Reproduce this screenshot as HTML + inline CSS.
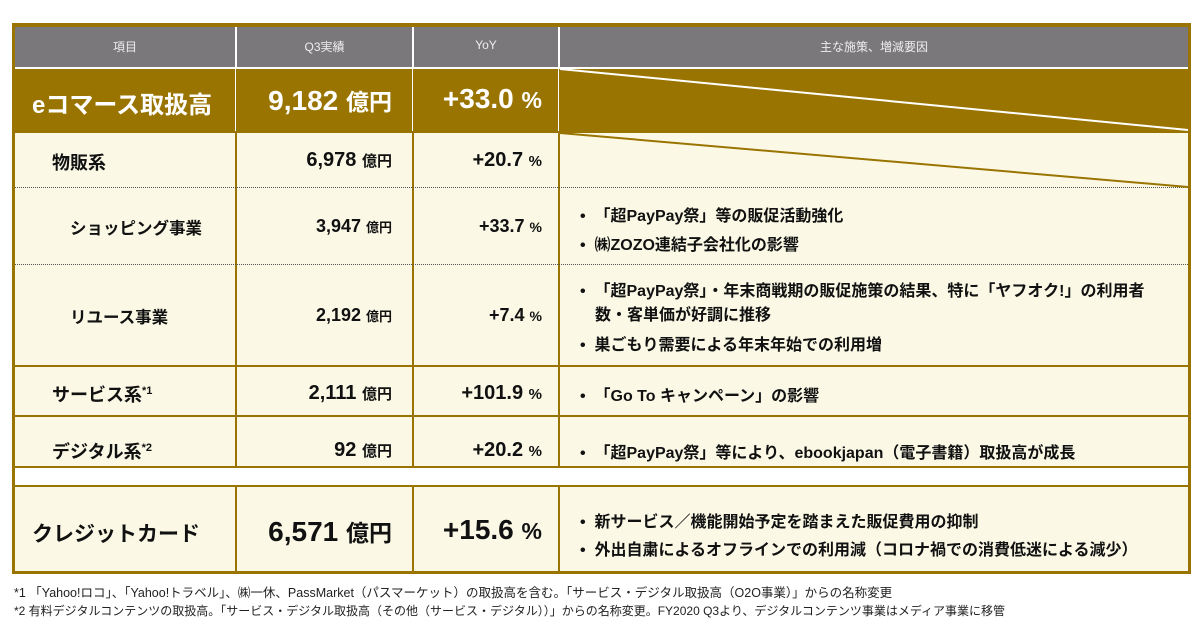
<!DOCTYPE html>
<html><head><meta charset="utf-8"><style>
body{margin:0;width:1200px;height:630px;background:#fff;position:relative;overflow:hidden;font-family:"Liberation Sans","Noto Sans CJK JP",sans-serif;}
.a{position:absolute;box-sizing:border-box;}
.t{position:absolute;white-space:nowrap;font-weight:bold;color:#111;}
.r{text-align:right;}
.u{font-size:15px;}
.n{font-size:20px;}
.c4{font-size:16px;}
.hd{color:#eee;font-size:12px;font-weight:normal;position:absolute;top:38px;text-align:center;}
</style></head><body>
<div class="a" style="left:12px;top:23px;width:1179px;height:551px;background:#9a7400;"></div>
<div class="a" style="left:15px;top:27px;width:1173px;height:40px;background:#7b787c;"></div>
<div class="a" style="left:15px;top:69px;width:1173px;height:62px;background:#9a7400;"></div>
<div class="a" style="left:15px;top:133px;width:1173px;height:333px;background:#fbf9e6;"></div>
<div class="a" style="left:15px;top:468px;width:1173px;height:17px;background:#fff;"></div>
<div class="a" style="left:15px;top:487px;width:1173px;height:84px;background:#fbf9e6;"></div>
<div class="a" style="left:15px;top:67px;width:1173px;height:2px;background:#fff;"></div>
<div class="a" style="left:235px;top:27px;width:2px;height:40px;background:#fff;"></div>
<div class="a" style="left:412px;top:27px;width:2px;height:40px;background:#fff;"></div>
<div class="a" style="left:558px;top:27px;width:2px;height:40px;background:#fff;"></div>
<div class="a" style="left:235px;top:69px;width:1px;height:62px;background:#fff;"></div>
<div class="a" style="left:412px;top:69px;width:1px;height:62px;background:#fff;"></div>
<div class="a" style="left:558px;top:69px;width:1px;height:62px;background:#fff;"></div>
<div class="a" style="left:235px;top:133px;width:2px;height:333px;background:#9a7400;"></div>
<div class="a" style="left:412px;top:133px;width:2px;height:333px;background:#9a7400;"></div>
<div class="a" style="left:558px;top:133px;width:2px;height:333px;background:#9a7400;"></div>
<div class="a" style="left:235px;top:487px;width:2px;height:84px;background:#9a7400;"></div>
<div class="a" style="left:412px;top:487px;width:2px;height:84px;background:#9a7400;"></div>
<div class="a" style="left:558px;top:487px;width:2px;height:84px;background:#9a7400;"></div>
<div class="a" style="left:15px;top:187px;width:1173px;border-top:1.5px dotted #555;"></div>
<div class="a" style="left:15px;top:264px;width:1173px;border-top:1.5px dotted #555;"></div>
<div class="a" style="left:15px;top:365px;width:1173px;height:2px;background:#9a7400;"></div>
<div class="a" style="left:15px;top:415px;width:1173px;height:2px;background:#9a7400;"></div>
<svg class="a" style="left:0;top:0" width="1200" height="630"><line x1="560" y1="69" x2="1188" y2="130" stroke="#fff" stroke-width="2"/><line x1="560" y1="133" x2="1188" y2="187" stroke="#9a7400" stroke-width="2"/></svg>
<div class="hd" style="left:15px;width:220px;">項目</div>
<div class="hd" style="left:237px;width:175px;">Q3実績</div>
<div class="hd" style="left:414px;width:144px;">YoY</div>
<div class="hd" style="left:560px;width:628px;">主な施策、増減要因</div>
<div class="t" style="left:32px;top:85px;font-size:24px;color:#fff;">eコマース取扱高</div>
<div class="t r" style="left:237px;width:155px;top:83px;font-size:28px;color:#fff;">9,182 <span style="font-size:23px">億円</span></div>
<div class="t r" style="left:414px;width:128px;top:83px;font-size:28px;color:#fff;">+33.0 <span style="font-size:23px">%</span></div>
<div class="t" style="left:52px;top:149px;font-size:18px;">物販系</div>
<div class="t r n" style="left:237px;width:155px;top:149px;">6,978 <span class="u">億円</span></div>
<div class="t r n" style="left:414px;width:128px;top:149px;">+20.7 <span class="u">%</span></div>
<div class="t" style="left:70px;top:215px;font-size:16.5px;">ショッピング事業</div>
<div class="t r" style="left:237px;width:155px;top:216px;font-size:18px;">3,947 <span style="font-size:13px">億円</span></div>
<div class="t r" style="left:414px;width:128px;top:216px;font-size:18px;">+33.7 <span style="font-size:14px">%</span></div>
<div class="t c4" style="left:580px;top:202px;">•&nbsp; 「超PayPay祭」等の販促活動強化</div>
<div class="t c4" style="left:580px;top:231px;">•&nbsp; ㈱ZOZO連結子会社化の影響</div>
<div class="t" style="left:70px;top:304px;font-size:16.5px;">リユース事業</div>
<div class="t r" style="left:237px;width:155px;top:305px;font-size:18px;">2,192 <span style="font-size:13px">億円</span></div>
<div class="t r" style="left:414px;width:128px;top:305px;font-size:18px;">+7.4 <span style="font-size:14px">%</span></div>
<div class="t c4" style="left:580px;top:277px;">•&nbsp; 「超PayPay祭」・年末商戦期の販促施策の結果、特に「ヤフオク!」の利用者</div>
<div class="t c4" style="left:595px;top:301px;">数・客単価が好調に推移</div>
<div class="t c4" style="left:580px;top:331px;">•&nbsp; 巣ごもり需要による年末年始での利用増</div>
<div class="t" style="left:52px;top:381px;font-size:18px;">サービス系<sup style="font-size:11px">*1</sup></div>
<div class="t r n" style="left:237px;width:155px;top:382px;">2,111 <span class="u">億円</span></div>
<div class="t r n" style="left:414px;width:128px;top:382px;">+101.9 <span class="u">%</span></div>
<div class="t c4" style="left:580px;top:382px;">•&nbsp; 「Go To キャンペーン」の影響</div>
<div class="t" style="left:52px;top:438px;font-size:18px;">デジタル系<sup style="font-size:11px">*2</sup></div>
<div class="t r n" style="left:237px;width:155px;top:439px;">92 <span class="u">億円</span></div>
<div class="t r n" style="left:414px;width:128px;top:439px;">+20.2 <span class="u">%</span></div>
<div class="t c4" style="left:580px;top:439px;">•&nbsp; 「超PayPay祭」等により、ebookjapan（電子書籍）取扱高が成長</div>
<div class="t" style="left:32px;top:518px;font-size:21px;">クレジットカード</div>
<div class="t r" style="left:237px;width:155px;top:514px;font-size:28px;">6,571 <span style="font-size:23px">億円</span></div>
<div class="t r" style="left:414px;width:128px;top:514px;font-size:28px;">+15.6 <span style="font-size:23px">%</span></div>
<div class="t c4" style="left:580px;top:508px;">•&nbsp; 新サービス／機能開始予定を踏まえた販促費用の抑制</div>
<div class="t c4" style="left:580px;top:536px;">•&nbsp; 外出自粛によるオフラインでの利用減（コロナ禍での消費低迷による減少）</div>
<div class="t" style="left:14px;top:582px;font-size:12.5px;font-weight:normal;color:#222;">*1 「Yahoo!ロコ」、「Yahoo!トラベル」、㈱一休、PassMarket（パスマーケット）の取扱高を含む。「サービス・デジタル取扱高（O2O事業）」からの名称変更</div>
<div class="t" style="left:14px;top:602px;font-size:12px;font-weight:normal;color:#222;">*2 有料デジタルコンテンツの取扱高。「サービス・デジタル取扱高（その他（サービス・デジタル））」からの名称変更。FY2020 Q3より、デジタルコンテンツ事業はメディア事業に移管</div>
</body></html>
